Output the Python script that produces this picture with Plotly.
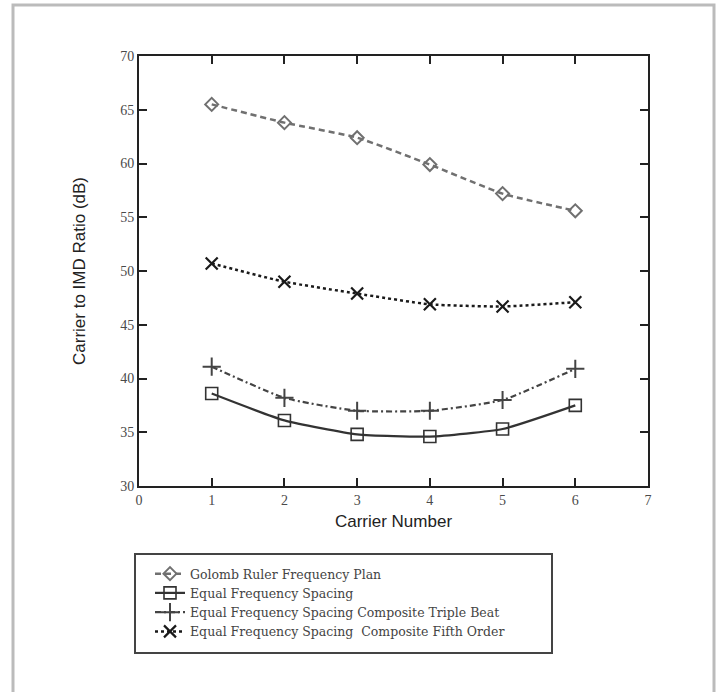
import plotly.graph_objects as go

carriers = [1, 2, 3, 4, 5, 6]
golomb = [65.5, 63.8, 62.4, 59.9, 57.2, 55.6]
equal = [38.6, 36.1, 34.8, 34.6, 35.3, 37.5]
triple_beat = [41.1, 38.2, 37.0, 37.0, 38.0, 40.9]
fifth_order = [50.7, 49.0, 47.9, 46.9, 46.7, 47.1]

x_ticks = [0, 1, 2, 3, 4, 5, 6, 7]
y_ticks = [30, 35, 40, 45, 50, 55, 60, 65, 70]

names = [
    "Golomb Ruler Frequency Plan",
    "Equal Frequency Spacing",
    "Equal Frequency Spacing Composite Triple Beat",
    "Equal Frequency Spacing  Composite Fifth Order",
]

fig = go.Figure()
fig.add_trace(go.Scatter(
    x=carriers, y=golomb, name=names[0], mode="lines+markers",
    line=dict(color="#707070", width=2.5, dash="6px,4px", shape="spline", smoothing=0.5),
    marker=dict(symbol="diamond-open", size=10, color="#707070", line=dict(width=2, color="#707070")),
))
fig.add_trace(go.Scatter(
    x=carriers, y=equal, name=names[1], mode="lines+markers",
    line=dict(color="#333333", width=2.2, shape="spline", smoothing=0.5),
    marker=dict(symbol="square-open", size=12, color="#333333", line=dict(width=1.6, color="#333333")),
))
fig.add_trace(go.Scatter(
    x=carriers, y=triple_beat, name=names[2], mode="lines+markers",
    line=dict(color="#444444", width=2.2, dash="6px,3px,2px,3px", shape="spline", smoothing=0.5),
    marker=dict(symbol="cross-thin-open", size=13, color="#444444", line=dict(width=2, color="#444444")),
))
fig.add_trace(go.Scatter(
    x=carriers, y=fifth_order, name=names[3], mode="lines+markers",
    line=dict(color="#1a1a1a", width=2.5, dash="3px,3px", shape="spline", smoothing=0.5),
    marker=dict(symbol="x-thin-open", size=12, color="#1a1a1a", line=dict(width=2.2, color="#1a1a1a")),
))

axis_common = dict(
    showline=True, linecolor="#222222", linewidth=2, mirror="ticks",
    ticks="inside", ticklen=8, tickwidth=2, tickcolor="#222222",
    showgrid=False, zeroline=False,
    tickfont=dict(family="Liberation Serif", size=14, color="#4a4a4a"),
    title_font=dict(family="Liberation Sans", size=17, color="#222222"),
)

fig.update_xaxes(range=[0, 7], tickvals=x_ticks, title_text="Carrier Number",
                 title_standoff=8, **axis_common)
fig.update_yaxes(range=[30, 70], tickvals=y_ticks, title_text="Carrier to IMD Ratio (dB)",
                 title_standoff=30, **axis_common)

fig.add_shape(type="rect", xref="paper", yref="paper",
              x0=(135 - 139) / 509, x1=(552 - 139) / 509,
              y0=(486 - 653) / 430, y1=(486 - 554) / 430,
              line=dict(color="#444444", width=2), fillcolor="rgba(0,0,0,0)")

# outer frame
fig.add_shape(type="rect", xref="paper", yref="paper",
              x0=(13 - 139) / 509, x1=(714 - 139) / 509,
              y0=(486 - 700) / 430, y1=(486 - 5) / 430,
              line=dict(color="#bbbbbb", width=3), fillcolor="rgba(0,0,0,0)")

fig.update_layout(
    width=723, height=692,
    margin=dict(l=139, r=75, t=56, b=206),
    paper_bgcolor="white", plot_bgcolor="white",
    showlegend=True,
    legend=dict(
        x=(150 - 139) / 509, y=(486 - 559) / 430, xanchor="left", yanchor="top",
        bgcolor="rgba(0,0,0,0)", borderwidth=0,
        font=dict(family="DejaVu Serif", size=12.5, color="#444444"),
        tracegroupgap=0, itemwidth=30,
    ),
)

fig.write_html("out.html")
